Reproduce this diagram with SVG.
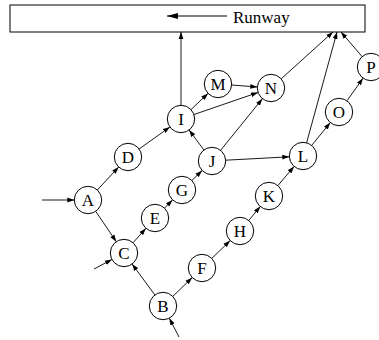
<svg xmlns="http://www.w3.org/2000/svg" width="379" height="340" viewBox="0 0 379 340">
<style>
.n circle{fill:#fff;stroke:#000;stroke-width:1}
.n text{font-family:"Liberation Serif",serif;font-size:17px;text-anchor:middle;fill:#000}
#edges line{stroke:#000;stroke-width:0.9;marker-end:url(#ah)}
</style>
<defs>
<marker id="ah" markerUnits="userSpaceOnUse" markerWidth="8" markerHeight="6" refX="7" refY="3" orient="auto">
<path d="M0,0.6 L7,3 L0,5.4 Z" fill="#000"/>
</marker>
<marker id="ah2" markerUnits="userSpaceOnUse" markerWidth="12" markerHeight="8" refX="11" refY="4" orient="auto">
<path d="M0,1 L11,4 L0,7 Z" fill="#000"/>
</marker>
</defs>
<g id="runway">
<rect x="10" y="5" width="355" height="27" fill="#fff" stroke="#000" stroke-width="1"/>
<line x1="227" y1="16" x2="167" y2="16" stroke="#000" stroke-width="1" marker-end="url(#ah2)"/>
<text x="233" y="23" font-family="Liberation Serif, serif" font-size="17">Runway</text>
</g>
<g id="edges">
<line x1="42" y1="200" x2="74.3" y2="200"/>
<line x1="94" y1="269" x2="111.9" y2="259.5"/>
<line x1="179" y1="337" x2="169.3" y2="318.2"/>
<line x1="97.3" y1="190" x2="118.7" y2="167"/>
<line x1="95.7" y1="211.3" x2="116.3" y2="241.7"/>
<line x1="139.1" y1="149" x2="169.9" y2="127"/>
<line x1="133.1" y1="242.7" x2="145.9" y2="228.3"/>
<line x1="164.5" y1="208.1" x2="172.5" y2="199.9"/>
<line x1="191.9" y1="180.5" x2="202.1" y2="170.5"/>
<line x1="154.9" y1="295" x2="132.1" y2="264"/>
<line x1="172.8" y1="296.4" x2="192.2" y2="277.6"/>
<line x1="211.8" y1="258.4" x2="230.2" y2="240.6"/>
<line x1="248.7" y1="220.5" x2="260.3" y2="206.5"/>
<line x1="277.9" y1="185.6" x2="294.1" y2="166.4"/>
<line x1="203.9" y1="150" x2="189.1" y2="130"/>
<line x1="220.6" y1="150.3" x2="262.4" y2="98.7"/>
<line x1="225.7" y1="160.2" x2="289.3" y2="156.8"/>
<line x1="191" y1="109.6" x2="208" y2="93.4"/>
<line x1="194" y1="114.5" x2="258" y2="92.5"/>
<line x1="181" y1="105.3" x2="181" y2="32"/>
<line x1="231.7" y1="85" x2="257.3" y2="87"/>
<line x1="281.2" y1="78.8" x2="333" y2="32"/>
<line x1="306.6" y1="142.8" x2="337" y2="32"/>
<line x1="311.7" y1="145.4" x2="330.3" y2="122.6"/>
<line x1="347" y1="100.8" x2="363" y2="78.2"/>
<line x1="362.1" y1="56.6" x2="341" y2="32"/>
</g>
<g id="A" class="n"><circle cx="88" cy="200" r="13.7"/><text x="88" y="205.8">A</text></g>
<g id="B" class="n"><circle cx="163" cy="306" r="13.7"/><text x="163" y="311.8">B</text></g>
<g id="C" class="n"><circle cx="124" cy="253" r="13.7"/><text x="124" y="258.8">C</text></g>
<g id="D" class="n"><circle cx="128" cy="157" r="13.7"/><text x="128" y="162.8">D</text></g>
<g id="E" class="n"><circle cx="155" cy="218" r="13.7"/><text x="155" y="223.8">E</text></g>
<g id="F" class="n"><circle cx="202" cy="268" r="13.7"/><text x="202" y="273.8">F</text></g>
<g id="G" class="n"><circle cx="182" cy="190" r="13.7"/><text x="182" y="195.8">G</text></g>
<g id="H" class="n"><circle cx="240" cy="231" r="13.7"/><text x="240" y="236.8">H</text></g>
<g id="I" class="n"><circle cx="181" cy="119" r="13.7"/><text x="181" y="124.8">I</text></g>
<g id="J" class="n"><circle cx="212" cy="161" r="13.7"/><text x="212" y="166.8">J</text></g>
<g id="K" class="n"><circle cx="269" cy="196" r="13.7"/><text x="269" y="201.8">K</text></g>
<g id="L" class="n"><circle cx="303" cy="156" r="13.7"/><text x="303" y="161.8">L</text></g>
<g id="M" class="n"><circle cx="218" cy="84" r="13.7"/><text x="218" y="89.8">M</text></g>
<g id="N" class="n"><circle cx="271" cy="88" r="13.7"/><text x="271" y="93.8">N</text></g>
<g id="O" class="n"><circle cx="339" cy="112" r="13.7"/><text x="339" y="117.8">O</text></g>
<g id="P" class="n"><circle cx="371" cy="67" r="13.7"/><text x="371" y="72.8">P</text></g>
</svg>
